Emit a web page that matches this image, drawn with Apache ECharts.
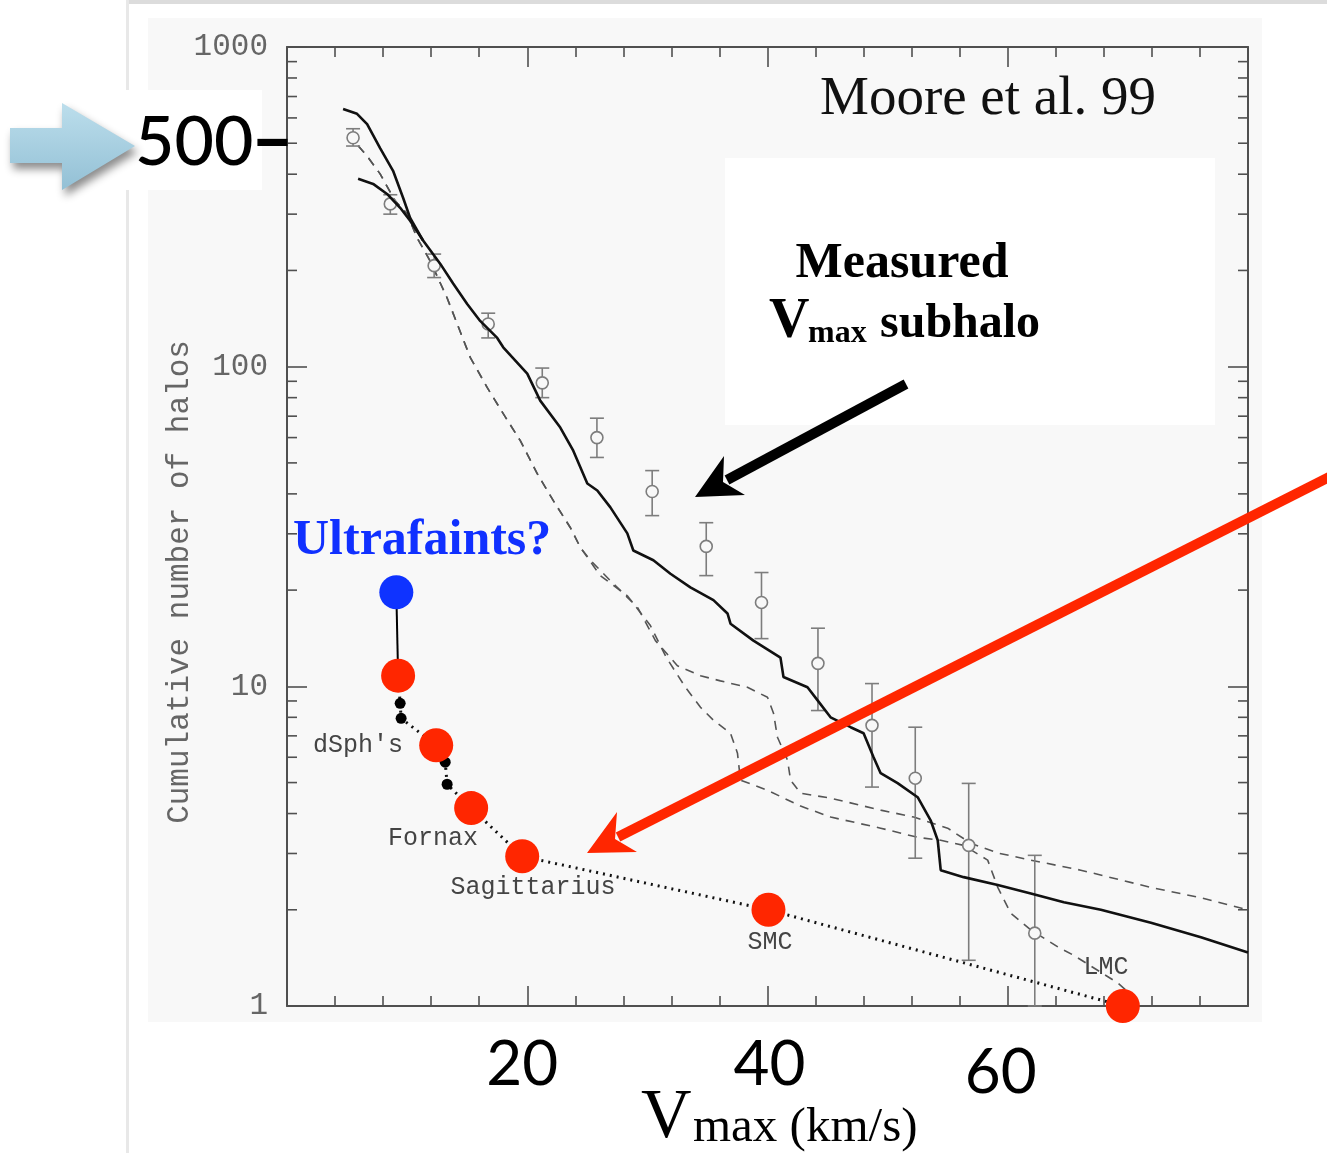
<!DOCTYPE html>
<html>
<head>
<meta charset="utf-8">
<script src="https://cdn.jsdelivr.net/npm/echarts@6.0.0/dist/echarts.min.js"></script>
<style>
  html, body { margin: 0; padding: 0; background: #fff; }
  #wrap { position: relative; width: 1327px; height: 1153px; overflow: hidden; }
  .bg { position: absolute; }
  #chart { position: absolute; left: 0; top: 0; width: 1327px; height: 1153px; }
</style>
</head>
<body>
<div id="wrap">
  <div class="bg" style="left:128px;top:0;width:1199px;height:4px;background:#dcdcdc"></div>
  <div class="bg" style="left:126px;top:0;width:3px;height:1153px;background:#e8e8e8"></div>
  <div class="bg" style="left:148px;top:18px;width:1114px;height:1004px;background:#f8f8f8"></div>
  <div class="bg" style="left:725px;top:158px;width:490px;height:267px;background:#fff"></div>
  <div class="bg" style="left:120px;top:90px;width:142px;height:100px;background:#fff"></div>
  <div id="chart"></div>
</div>
<script>
// simulation curves (Vmax in km/s, cumulative number of halos)
const sim1X = [4.67, 5.83, 6.67, 7.75, 8.83, 9.67, 10.25, 11.33, 12.75, 13.83, 15.0, 16.08, 17.5, 18.0, 20.0, 21.08, 22.75, 23.83, 25.0, 25.83, 26.92, 28.33, 28.83, 30.5, 31.92, 33.58, 35.5, 36.67, 36.92, 38.83, 41.08, 41.33, 43.33, 44.17, 45.25, 46.92, 48.0, 48.83, 49.42, 50.83, 52.5, 53.58, 54.17, 54.42, 56.33, 59.17, 61.92, 64.67, 67.75, 71.92, 76.08, 80];
const sim1N = [640, 618, 574, 483, 410, 337, 292, 248, 210, 182, 157, 139, 123, 115, 95.1, 78.3, 64.5, 54.6, 43.1, 41.0, 36.3, 30.1, 26.6, 24.8, 22.5, 20.4, 18.6, 16.9, 15.7, 13.9, 12.3, 10.7, 9.93, 9.04, 8.0, 7.45, 7.13, 6.0, 5.35, 4.98, 4.5, 3.81, 3.30, 2.66, 2.53, 2.39, 2.25, 2.11, 2.0, 1.82, 1.64, 1.47];
const sim2X = [5.92, 7.17, 8.33, 9.42, 10.25, 11.33];
const sim2N = [387, 373, 347, 314, 286, 248];

// dashed curves: common upper part, then two branches
const dashTopX = [5.92, 6.67, 7.75, 9.0, 10.0, 10.83, 11.92, 13.33, 14.17, 15.25, 16.67, 18.0, 19.42, 20.83, 22.17, 23.58, 24.42];
const dashTopN = [491, 456, 401, 330, 301, 253, 214, 164, 136, 107, 86.0, 71.3, 58.7, 46.3, 38.1, 31.4, 27.2];
const dashAX = [25.25, 27.08, 29.17, 30.67, 32.5, 34.42, 36.08, 38.33, 40.0, 40.5, 40.83, 41.67, 41.92, 42.75, 45.25, 49.42, 52.17, 55.0, 56.92, 59.17, 61.92, 66.08, 71.92, 76.08, 80];
const dashAN = [24.8, 21.1, 17.7, 13.9, 11.6, 10.8, 10.4, 9.93, 9.24, 8.24, 6.93, 5.87, 5.09, 4.63, 4.47, 4.10, 3.90, 3.60, 3.23, 3.01, 2.86, 2.66, 2.35, 2.18, 2.0];
const dashBX = [26.08, 28.33, 30.25, 31.58, 33.17, 34.42, 35.5, 36.92, 37.5, 37.75, 40.0, 42.75, 45.25, 49.42, 52.5, 54.42, 56.33, 58.33, 59.17, 60.25, 61.92, 64.17, 65.5, 69.17, 71.08];
const dashBN = [22.2, 19.2, 15.5, 12.3, 9.93, 8.60, 7.83, 7.13, 6.18, 5.09, 4.73, 4.22, 3.90, 3.60, 3.37, 3.30, 3.18, 2.86, 2.35, 1.95, 1.73, 1.53, 1.44, 1.18, 1.02];

// points with error bars
const errX = [5.5, 8.6, 12.25, 16.75, 21.25, 25.8, 30.4, 34.9, 39.5, 44.2, 48.7, 52.3, 56.75, 62.25];
const errN = [520, 323, 207, 136, 89, 60, 40.7, 27.4, 18.3, 11.8, 7.55, 5.16, 3.18, 1.69];
const errLo = [490, 300, 190, 123, 80, 52, 34.2, 22.2, 14.1, 8.4, 4.84, 2.9, 1.39, 1.0];
const errHi = [555, 345, 225, 147, 99, 69, 47.3, 32.5, 22.7, 15.2, 10.2, 7.45, 4.97, 2.96];

// observed satellites (dotted line), marked points
const obsX = [9.25, 9.42, 9.5, 12.42, 13.17, 13.33, 15.33, 19.58, 40.08, 69.58];
const obsN = [10.8, 8.85, 7.94, 6.54, 5.79, 4.94, 4.16, 2.94, 2.0, 1.0];
const redX = [9.25, 12.42, 15.33, 19.58, 40.08, 69.58];
const redN = [10.8, 6.54, 4.16, 2.94, 2.0, 1.0];
const smallX = [9.42, 9.5, 13.17, 13.33];
const smallN = [8.85, 7.94, 5.79, 4.94];
const ultraX = [9.1];
const ultraN = [19.7];

// axis ticks
const xTickLabels = [20, 40, 60];
const yMinorTicks = [2, 3, 4, 5, 6, 7, 8, 9, 20, 30, 40, 50, 60, 70, 80, 90, 200, 300, 400, 500, 600, 700, 800, 900];

const pairs = (xs, ys) => xs.map((x, i) => [x, ys[i]]);

const chart = echarts.init(document.getElementById('chart'));

const axisGray = '#505050';
const monoFont = '"Liberation Mono", "DejaVu Sans Mono", monospace';
const serifFont = '"Liberation Serif", "DejaVu Serif", serif';
const sansFont = 'Lato, "Open Sans", sans-serif';

function renderErr(params, api) {
    const x = api.value(0);
    const lo = api.coord([x, api.value(2)]);
    const hi = api.coord([x, api.value(3)]);
    const w = 7;
    const style = { stroke: '#7d7d7d', lineWidth: 1.6 };
    return {
        type: 'group',
        children: [
            { type: 'line', shape: { x1: lo[0], y1: lo[1], x2: hi[0], y2: hi[1] }, style },
            { type: 'line', shape: { x1: hi[0] - w, y1: hi[1], x2: hi[0] + w, y2: hi[1] }, style },
            { type: 'line', shape: { x1: lo[0] - w, y1: lo[1], x2: lo[0] + w, y2: lo[1] }, style }
        ]
    };
}

function renderMinorTick(params, api) {
    const p = api.coord([0, api.value(1)]);
    const cs = params.coordSys;
    const style = { stroke: axisGray, lineWidth: 1.6 };
    return {
        type: 'group',
        children: [
            { type: 'line', shape: { x1: cs.x, y1: p[1], x2: cs.x + 10, y2: p[1] }, style },
            { type: 'line', shape: { x1: cs.x + cs.width, y1: p[1], x2: cs.x + cs.width - 10, y2: p[1] }, style }
        ]
    };
}

const xLabelRich = {
    a: { fontFamily: sansFont, fontSize: 62, color: '#000', padding: [0, 10, 0, 0] },
    b: { fontFamily: sansFont, fontSize: 62, color: '#000', padding: [0, 0, 0, 4] },
    c: { fontFamily: sansFont, fontSize: 62, color: '#000', padding: [8, 14, 0, 0] }
};

const baseX = {
    type: 'value',
    min: 0,
    max: 80,
    interval: 20,
    axisLine: { show: true, onZero: false, lineStyle: { color: axisGray, width: 2 } },
    axisTick: { show: true, inside: true, length: 20, lineStyle: { color: axisGray, width: 1.6 } },
    minorTick: { show: true, splitNumber: 5, length: 10, lineStyle: { color: axisGray, width: 1.6 } },
    splitLine: { show: false },
    minorSplitLine: { show: false }
};

const baseY = {
    type: 'log',
    logBase: 10,
    min: 1,
    max: 1000,
    axisLine: { show: true, onZero: false, lineStyle: { color: axisGray, width: 2 } },
    axisTick: { show: true, inside: true, length: 20, lineStyle: { color: axisGray, width: 1.6 } },
    splitLine: { show: false }
};

const option = {
    backgroundColor: 'transparent',
    animation: false,
    grid: { left: 287, right: 79, top: 47, bottom: 147, outerBoundsMode: 'none' },
    xAxis: [
        Object.assign({}, baseX, {
            position: 'bottom',
            axisLabel: {
                show: true,
                margin: 28,
                formatter: v => {
                    if (v === xTickLabels[0]) return '{a|' + v + '}';
                    if (v === xTickLabels[1]) return '{b|' + v + '}';
                    if (v === xTickLabels[2]) return '{c|' + v + '}';
                    return '';
                },
                rich: xLabelRich
            }
        }),
        Object.assign({}, baseX, { position: 'top', axisLabel: { show: false } })
    ],
    yAxis: [
        Object.assign({}, baseY, {
            position: 'left',
            axisLabel: {
                show: true,
                margin: 19,
                color: '#666',
                fontFamily: monoFont,
                fontSize: 31,
                formatter: v => String(Math.round(v))
            }
        }),
        Object.assign({}, baseY, { position: 'right', axisLabel: { show: false } })
    ],
    series: [
        {
            name: 'minor ticks',
            type: 'custom',
            renderItem: renderMinorTick,
            data: yMinorTicks.map(v => [0, v]),
            silent: true,
            z: 1
        },
        {
            name: 'dashed A',
            type: 'line',
            data: pairs(dashTopX.concat(dashAX), dashTopN.concat(dashAN)),
            showSymbol: false,
            lineStyle: { color: '#555', width: 1.6, type: [9, 7] },
            z: 2
        },
        {
            name: 'dashed B',
            type: 'line',
            data: pairs(dashTopX.concat(dashBX), dashTopN.concat(dashBN)),
            showSymbol: false,
            lineStyle: { color: '#555', width: 1.6, type: [9, 7] },
            z: 2
        },
        {
            name: 'error bars',
            type: 'custom',
            renderItem: renderErr,
            encode: { x: 0, y: [1, 2, 3] },
            data: errX.map((x, i) => [x, errN[i], errLo[i], errHi[i]]),
            z: 3
        },
        {
            name: 'points',
            type: 'scatter',
            data: pairs(errX, errN),
            symbol: 'circle',
            symbolSize: 12,
            itemStyle: { color: '#f8f8f8', borderColor: '#7d7d7d', borderWidth: 1.6, opacity: 1 },
            z: 4
        },
        {
            name: 'simulation 1',
            type: 'line',
            data: pairs(sim1X, sim1N),
            showSymbol: false,
            lineStyle: { color: '#111', width: 2.6 },
            z: 5
        },
        {
            name: 'simulation 2',
            type: 'line',
            data: pairs(sim2X, sim2N),
            showSymbol: false,
            lineStyle: { color: '#111', width: 2.6 },
            z: 5
        },
        {
            name: 'observed',
            type: 'line',
            data: pairs(obsX, obsN),
            showSymbol: false,
            lineStyle: { color: '#111', width: 3, type: [2, 5] },
            z: 6
        },
        {
            name: 'observed dots',
            type: 'scatter',
            data: pairs(smallX, smallN),
            symbolSize: 11,
            itemStyle: { color: '#000', opacity: 1 },
            z: 7
        },
        {
            name: 'ultrafaint link',
            type: 'line',
            data: [[ultraX[0], ultraN[0]], [redX[0], redN[0]]],
            showSymbol: false,
            lineStyle: { color: '#000', width: 2 },
            z: 7
        },
        {
            name: 'satellites',
            type: 'scatter',
            data: pairs(redX, redN),
            symbolSize: 34,
            itemStyle: { color: '#ff2600', opacity: 1 },
            z: 8
        },
        {
            name: 'ultrafaints',
            type: 'scatter',
            data: pairs(ultraX, ultraN),
            symbolSize: 34,
            itemStyle: { color: '#0f33ff', opacity: 1 },
            z: 8
        }
    ],
    graphic: [
        // blue arrow at top left
        {
            type: 'polygon', z: 20,
            shape: { points: [[10, 128], [62, 128], [62, 103], [135, 146], [62, 190], [62, 163], [10, 163]] },
            style: {
                fill: { type: 'linear', x: 0, y: 0, x2: 0, y2: 1, colorStops: [{ offset: 0, color: '#bcdeec' }, { offset: 1, color: '#93c0d5' }] },
                shadowBlur: 8, shadowColor: 'rgba(0,0,0,0.45)', shadowOffsetX: 3, shadowOffsetY: 6
            }
        },
        {
            type: 'text', z: 20, x: 135, y: 143,
            style: { text: '500', fill: '#000', font: '500 68px ' + sansFont, align: 'left', verticalAlign: 'middle' }
        },
        {
            type: 'text', z: 20, x: 251, y: 141,
            style: { text: '–', fill: '#000', font: '900 74px ' + sansFont, align: 'left', verticalAlign: 'middle' }
        },
        {
            type: 'text', z: 20, x: 988, y: 100,
            style: { text: 'Moore et al. 99', fill: '#111', font: '55px ' + serifFont, align: 'center', verticalAlign: 'middle' }
        },
        {
            type: 'text', z: 20, x: 902, y: 264,
            style: { text: 'Measured', fill: '#000', font: 'bold 50px ' + serifFont, align: 'center', verticalAlign: 'middle' }
        },
        {
            type: 'text', z: 20, x: 769, y: 323,
            style: { text: 'V', fill: '#000', font: 'bold 56px ' + serifFont, align: 'left', verticalAlign: 'middle' }
        },
        {
            type: 'text', z: 20, x: 808, y: 334,
            style: { text: 'max', fill: '#000', font: 'bold 32px ' + serifFont, align: 'left', verticalAlign: 'middle' }
        },
        {
            type: 'text', z: 20, x: 880, y: 325,
            style: { text: 'subhalo', fill: '#000', font: 'bold 48px ' + serifFont, align: 'left', verticalAlign: 'middle' }
        },
        {
            type: 'text', z: 20, x: 293, y: 541,
            style: { text: 'Ultrafaints?', fill: '#1030ff', font: 'bold 50px ' + serifFont, align: 'left', verticalAlign: 'middle' }
        },
        {
            type: 'text', z: 20, x: 180, y: 582, rotation: Math.PI / 2,
            style: { text: 'Cumulative number of halos', fill: '#666', font: '31px ' + monoFont, align: 'center', verticalAlign: 'middle' }
        },
        { type: 'text', z: 20, x: 358, y: 745, style: { text: "dSph's", fill: '#444', font: '25px ' + monoFont, align: 'center', verticalAlign: 'middle' } },
        { type: 'text', z: 20, x: 433, y: 838, style: { text: 'Fornax', fill: '#444', font: '25px ' + monoFont, align: 'center', verticalAlign: 'middle' } },
        { type: 'text', z: 20, x: 533, y: 887, style: { text: 'Sagittarius', fill: '#444', font: '25px ' + monoFont, align: 'center', verticalAlign: 'middle' } },
        { type: 'text', z: 20, x: 770, y: 942, style: { text: 'SMC', fill: '#444', font: '25px ' + monoFont, align: 'center', verticalAlign: 'middle' } },
        { type: 'text', z: 20, x: 1106, y: 967, style: { text: 'LMC', fill: '#444', font: '25px ' + monoFont, align: 'center', verticalAlign: 'middle' } },
        {
            type: 'text', z: 20, x: 641, y: 1119,
            style: { text: 'V', fill: '#000', font: '70px ' + serifFont, align: 'left', verticalAlign: 'middle' }
        },
        {
            type: 'text', z: 20, x: 693, y: 1128,
            style: { text: 'max (km/s)', fill: '#000', font: '49px ' + serifFont, align: 'left', verticalAlign: 'middle' }
        },
        // black arrow
        {
            type: 'line', z: 20,
            shape: { x1: 906, y1: 384, x2: 727, y2: 480 },
            style: { stroke: '#000', lineWidth: 10 }
        },
        {
            type: 'polygon', z: 20,
            shape: { points: [[695, 497], [724, 456], [723, 482], [745, 495]] },
            style: { fill: '#000' }
        },
        // red arrow
        {
            type: 'line', z: 20,
            shape: { x1: 1335, y1: 474, x2: 618, y2: 837 },
            style: { stroke: '#ff2600', lineWidth: 10 }
        },
        {
            type: 'polygon', z: 20,
            shape: { points: [[587, 853], [617, 812], [615, 839], [637, 852]] },
            style: { fill: '#ff2600' }
        }
    ]
};

chart.setOption(option);
</script>
</body>
</html>
